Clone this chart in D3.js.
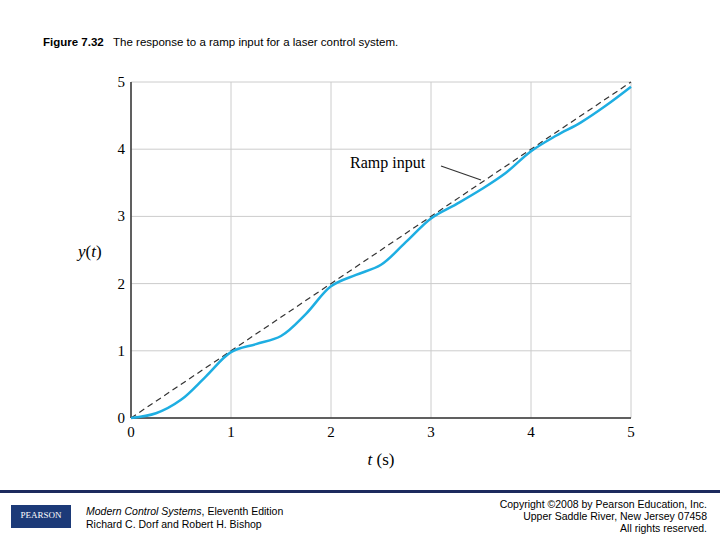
<!DOCTYPE html><html><head><meta charset="utf-8"><script src="https://cdn.jsdelivr.net/npm/d3@7"></script>
<style>body{margin:0;background:#fff}</style></head><body><svg id="c" width="720" height="540"></svg>
<script>
const tVals=[0,0.25,0.5,0.75,1,1.25,1.5,1.75,2,2.25,2.5,2.75,3,3.25,3.5,3.75,4,4.25,4.5,4.75,5];
const yVals=[0,0.07,0.27,0.62,0.98,1.1,1.22,1.55,1.96,2.13,2.28,2.62,2.97,3.18,3.4,3.65,3.97,4.2,4.4,4.65,4.93];
const ramp=[[0,0],[5,5]];
const ticks=[0,1,2,3,4,5];
const svg=d3.select("#c");
const x=d3.scaleLinear().domain([0,5]).range([131,631]);
const y=d3.scaleLinear().domain([0,5]).range([418,82]);
svg.append("text").attr("x",43).attr("y",46).attr("font-family","Liberation Sans").attr("font-size",11.5)
 .html('<tspan font-weight="bold">Figure 7.32</tspan>&#160;&#160; The response to a ramp input for a laser control system.');
const g=svg.append("g");
ticks.forEach(t=>{
 g.append("line").attr("x1",x(t)).attr("x2",x(t)).attr("y1",y(0)).attr("y2",y(5)).attr("stroke","#ccc").attr("stroke-width",1);
 g.append("line").attr("y1",y(t)).attr("y2",y(t)).attr("x1",x(0)).attr("x2",x(5)).attr("stroke","#ccc").attr("stroke-width",1);
 g.append("text").attr("x",x(t)).attr("y",437).attr("text-anchor","middle").attr("font-family","Liberation Serif").attr("font-size",15).text(t);
 g.append("text").attr("x",125).attr("y",y(t)+5).attr("text-anchor","end").attr("font-family","Liberation Serif").attr("font-size",15).text(t);
});
g.append("line").attr("x1",x(0)).attr("x2",x(0)).attr("y1",y(0)).attr("y2",y(5)).attr("stroke","#333").attr("stroke-width",1.5);
g.append("line").attr("x1",x(0)).attr("x2",x(5)).attr("y1",y(0)).attr("y2",y(0)).attr("stroke","#333").attr("stroke-width",1.5);
const line=d3.line().x(d=>x(d[0])).y(d=>y(d[1]));
g.append("path").attr("d",line(ramp)).attr("stroke","#333").attr("stroke-dasharray","6,4").attr("fill","none").attr("stroke-width",1.2);
g.append("path").attr("d",d3.line().x(d=>x(d[0])).y(d=>y(d[1])).curve(d3.curveCatmullRom)(tVals.map((t,i)=>[t,yVals[i]]))).attr("stroke","#1eaee2").attr("fill","none").attr("stroke-width",2.5);
g.append("text").attr("x",350).attr("y",168).attr("font-family","Liberation Serif").attr("font-size",16).text("Ramp input");
g.append("line").attr("x1",441).attr("y1",166).attr("x2",481).attr("y2",180).attr("stroke","#333").attr("stroke-width",1.2);
g.append("text").attr("x",78).attr("y",257).attr("font-family","Liberation Serif").attr("font-size",17).html('<tspan font-style="italic">y</tspan>(<tspan font-style="italic">t</tspan>)');
g.append("text").attr("x",381).attr("y",465).attr("text-anchor","middle").attr("font-family","Liberation Serif").attr("font-size",17).html('<tspan font-style="italic">t</tspan> (s)');
svg.append("rect").attr("x",0).attr("y",490).attr("width",720).attr("height",3).attr("fill","#1c2a5e");
svg.append("rect").attr("x",11).attr("y",505).attr("width",60).attr("height",23).attr("fill","#1c3a78");
svg.append("text").attr("x",41).attr("y",518).attr("text-anchor","middle").attr("fill","#fff").attr("font-family","Liberation Serif").attr("font-size",9).text("PEARSON");
const ft=(xx,yy,html,anchor)=>svg.append("text").attr("x",xx).attr("y",yy).attr("text-anchor",anchor||"start").attr("font-family","Liberation Sans").attr("font-size",10.5).html(html);
ft(86,515,'<tspan font-style="italic">Modern Control Systems</tspan>, Eleventh Edition');
ft(86,528,'Richard C. Dorf and Robert H. Bishop');
ft(707,508,'Copyright ©2008 by Pearson Education, Inc.','end');
ft(707,520,'Upper Saddle River, New Jersey 07458','end');
ft(707,532,'All rights reserved.','end');
</script></body></html>
